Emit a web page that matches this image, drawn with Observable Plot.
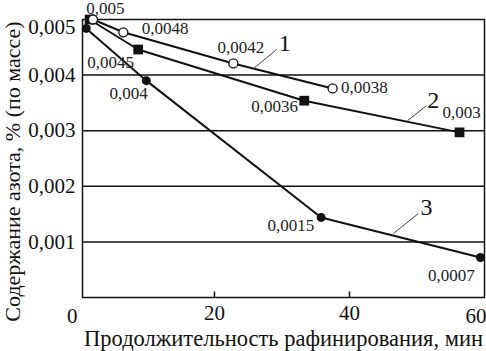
<!DOCTYPE html>
<html><head><meta charset="utf-8">
<script src="https://cdn.jsdelivr.net/npm/d3@7"></script>
<script src="https://cdn.jsdelivr.net/npm/@observablehq/plot@0.6"></script>
<style>body{margin:0;background:#fff} svg text{font-family:"Liberation Serif","Times New Roman",Times,"DejaVu Serif",serif !important}</style>
</head><body><div id="chart"></div>
<script>
// Series (time, min; nitrogen, % mass)
const curve1X = [2, 6.5, 22.8, 37.5];
const curve1Y = [0.005, 0.00477, 0.00421, 0.00376];
const curve2X = [1.5, 8.7, 33.3, 56.3];
const curve2Y = [0.005, 0.00446, 0.00354, 0.00297];
const curve3X = [1, 9.9, 35.8, 59.4];
const curve3Y = [0.00484, 0.0039, 0.00144, 0.00072];

// Value annotations
const valueText = ["0,005", "0,0048", "0,0042", "0,0038", "0,0045", "0,0036", "0,003", "0,004", "0,0015", "0,0007"];
const valueX = [3.85, 12.7, 23.9, 42.2, 4.6, 28.9, 56.6, 7.3, 31.3, 55.1];
const valueY = [0.00519, 0.00484, 0.0045, 0.00378, 0.00423, 0.00344, 0.00333, 0.00367, 0.0013, 0.0004];

// Curve number annotations and leader lines
const curveNames = ["1", "2", "3"];
const nameX = [30.4, 52.4, 51.4];
const nameY = [0.00457, 0.00354, 0.00162];
const leadX1 = [29.2, 51.4, 50.2];
const leadY1 = [0.00446, 0.00345, 0.00151];
const leadX2 = [25.6, 48.6, 46.5];
const leadY2 = [0.0041, 0.00318, 0.00115];

// Ticks
const xTicks = [20, 40];
const yTicks = [0.001, 0.002, 0.003, 0.004];
const yTickText = ["0,001", "0,002", "0,003", "0,004"];
const xTitle = "Продолжительность рафинирования, мин";
const yTitle = "Содержание азота, % (по массе)";

const zip = (xs, ys) => xs.map((x, i) => ({x, y: ys[i]}));
const c1 = zip(curve1X, curve1Y), c2 = zip(curve2X, curve2Y), c3 = zip(curve3X, curve3Y);
const vals = valueText.map((t, i) => ({t, x: valueX[i], y: valueY[i]}));
const names = curveNames.map((t, i) => ({t, x: nameX[i], y: nameY[i], x1: leadX1[i], y1: leadY1[i], x2: leadX2[i], y2: leadY2[i]}));

const chart = Plot.plot({
  width: 486, height: 351,
  marginLeft: 82, marginRight: 2, marginTop: 19, marginBottom: 54,
  style: {fontFamily: "'Liberation Serif', serif", background: "#fff", color: "#111"},
  x: {domain: [0.45, 60]},
  y: {domain: [0, 0.005]},
  marks: [
    Plot.ruleY(yTicks, {stroke: "#111", strokeWidth: 1.5}),
    Plot.frame({stroke: "#111", strokeWidth: 1.5}),
    Plot.ruleX(xTicks, {y1: 0, y2: 0.0001, stroke: "#111", strokeWidth: 1.5}),
    Plot.axisX(xTicks, {tickSize: 0, tickPadding: 8, fontSize: 21, label: null}),
    Plot.text([0], {x: d => d, y: 0, text: () => "0", textAnchor: "end", dx: -2, dy: 19, fontSize: 21}),
    Plot.text([60], {x: d => d, y: 0, text: () => "60", textAnchor: "end", dx: 2, dy: 19, fontSize: 21}),
    Plot.axisY(yTicks, {tickSize: 0, tickPadding: 7, fontSize: 21, tickFormat: (d, i) => yTickText[i], label: null}),
    Plot.text([0.005], {x: 0.45, y: d => d, text: () => "0,005", textAnchor: "end", dx: -7, dy: 8, fontSize: 21}),
    Plot.text([xTitle], {frameAnchor: "bottom", textAnchor: "middle", dy: 48, fontSize: 22.5}),
    Plot.text([yTitle], {frameAnchor: "left", textAnchor: "middle", dx: -70, dy: 13, rotate: -90, fontSize: 22}),
    Plot.line(c1, {x: "x", y: "y", stroke: "#111", strokeWidth: 2}),
    Plot.line(c2, {x: "x", y: "y", stroke: "#111", strokeWidth: 2}),
    Plot.line(c3, {x: "x", y: "y", stroke: "#111", strokeWidth: 2}),
    Plot.link(names, {x1: "x1", y1: "y1", x2: "x2", y2: "y2", stroke: "#444", strokeWidth: 1}),
    Plot.dot(c3, {x: "x", y: "y", r: 4.5, fill: "#111"}),
    Plot.dot(c2, {x: "x", y: "y", symbol: "square", r: 5.5, fill: "#111"}),
    Plot.dot(c1, {x: "x", y: "y", r: 4.5, fill: "#fff", stroke: "#111", strokeWidth: 1.3}),
    Plot.text(vals, {x: "x", y: "y", text: "t", fontSize: 17, fill: "#222"}),
    Plot.text(names, {x: "x", y: "y", text: "t", fontSize: 24, fill: "#111"})
  ]
});
document.getElementById("chart").append(chart);
</script>
</body></html>
